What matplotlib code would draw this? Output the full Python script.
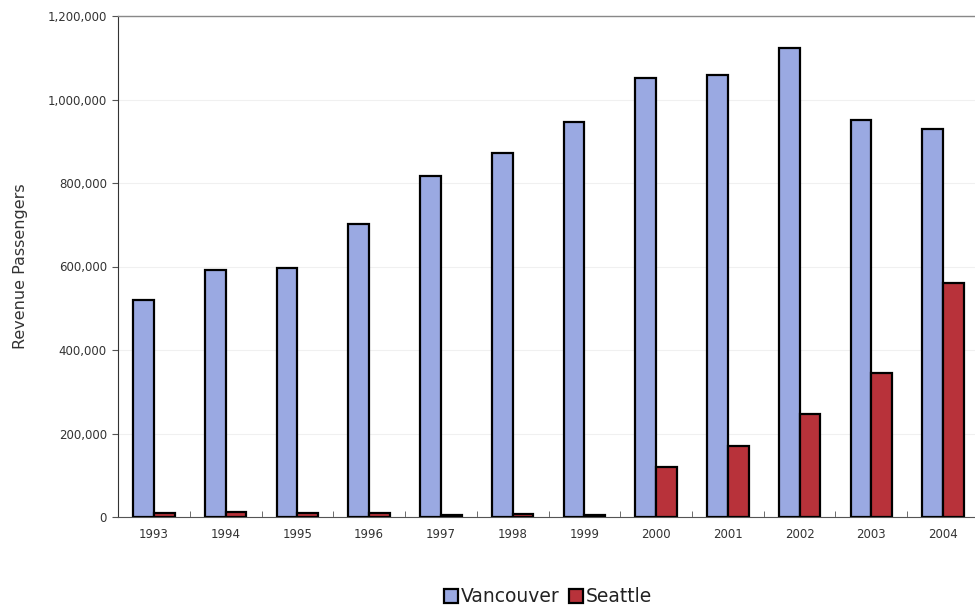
import matplotlib
matplotlib.use("Agg")
import matplotlib.pyplot as plt
import numpy as np
from matplotlib.ticker import FuncFormatter

years = ["1993", "1994", "1995", "1996", "1997", "1998", "1999",
         "2000", "2001", "2002", "2003", "2004"]
vancouver = [520000, 591000, 596000, 701000, 816000, 871000, 946000,
             1051000, 1058000, 1123000, 951000, 929000]
seattle = [10000, 12000, 9000, 9000, 5000, 8000, 4000,
           120000, 171000, 246000, 346000, 561000]

blue = "#9aa9e2"
red = "#b8323a"

fig = plt.figure(figsize=(9.75, 6.12), dpi=100)
ax = fig.add_axes([118 / 975, 1 - 517 / 612, 861 / 975, 501 / 612])

x = np.arange(len(years))
w = 0.29
ax.bar(x - w / 2, vancouver, w, color=blue, edgecolor="black", linewidth=1.6,
       label="Vancouver", zorder=3)
ax.bar(x + w / 2, seattle, w, color=red, edgecolor="black", linewidth=1.6,
       label="Seattle", zorder=3)

ax.set_xlim(-0.5, len(years) - 0.5)
ax.set_ylim(0, 1200000)
ax.set_yticks(np.arange(0, 1200001, 200000))
ax.yaxis.set_major_formatter(FuncFormatter(lambda v, p: f"{int(v):,}"))
ax.set_xticks(x)
ax.set_xticklabels(years)
ax.set_xticks(np.arange(-0.5, len(years), 1), minor=True)
ax.tick_params(axis="x", which="major", length=0, pad=8, labelsize=8.5,
               labelcolor="#333333")
ax.tick_params(axis="x", which="minor", length=4, direction="in", color="#555555")
ax.tick_params(axis="y", length=4, direction="out", labelsize=8.5,
               color="#555555", labelcolor="#333333", pad=4)

ax.grid(axis="y", color="#f0f0f0", linewidth=0.8, zorder=0)
ax.spines["right"].set_visible(False)
ax.spines["top"].set_color("#888888")
ax.spines["top"].set_linewidth(1.0)
ax.spines["left"].set_color("#333333")
ax.spines["bottom"].set_color("#555555")

ax.set_ylabel("Revenue Passengers", fontsize=11.5, color="#333333", labelpad=14)

fig.legend(loc="center", bbox_to_anchor=(548 / 975, 1 - 597 / 612), ncol=2,
           frameon=False, fontsize=13.5, handlelength=0.75, handleheight=0.75,
           handletextpad=0.15, columnspacing=0.5, labelcolor="#222222")

fig.savefig("out.png", dpi=100)
